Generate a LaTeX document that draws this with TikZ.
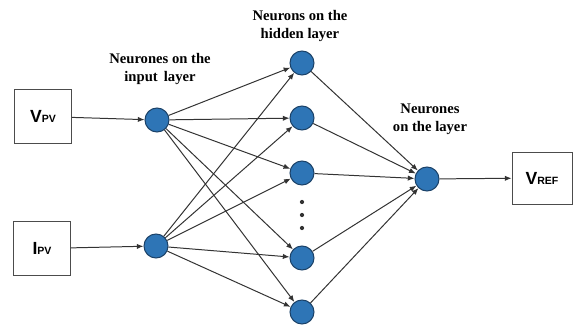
\documentclass[tikz,border=0pt]{standalone}
\usepackage{fontspec}
\setmainfont{Liberation Serif}
\newfontfamily\fontecaixa{Liberation Sans}
\usetikzlibrary{arrows.meta}
\definecolor{azulneuronio}{RGB}{46,117,182}
\definecolor{bordaneuronio}{RGB}{28,66,104}
\def\ocultas{1/63, 2/118, 3/173, 4/258, 5/312}
\tikzset{
  neuronio/.style={circle, draw=bordaneuronio, fill=azulneuronio, line width=0.9pt, inner sep=0pt, minimum size=0.72cm},
  caixa/.style={rectangle, draw=black!70, line width=0.8pt, inner sep=0pt, minimum width=1.7cm, minimum height=1.6cm},
  ligacao/.style={draw=black!80, line width=0.85pt, -{Latex[length=2mm, width=1.6mm]}},
  titulo/.style={align=center, inner sep=0pt, font=\bfseries\fontsize{12.5}{15.5}\selectfont},
  ponto/.style={circle, fill=black!80, inner sep=0pt, minimum size=3.6pt},
}
\newcommand{\sinal}[2]{{\fontecaixa\bfseries\fontsize{15}{15}\selectfont #1}{\fontecaixa\bfseries\fontsize{9}{9}\selectfont #2}}

\begin{document}
\begin{tikzpicture}[x=0.03cm, y=-0.03cm]
  \useasboundingbox (0,0) rectangle (574,327);

  % ---------------- entradas ----------------
  \node[caixa] (vpv) at (43,116.5) {\sinal{V}{PV}};
  \node[caixa] (ipv) at (42,248.5) {\sinal{I}{PV}};
  \node[neuronio] (in1) at (157,120) {};
  \node[neuronio] (in2) at (156,246) {};

  % ---------------- camada oculta ----------------
  \foreach \j/\y in \ocultas { \node[neuronio] (h\j) at (302,\y) {}; }
  \foreach \y [count=\k] in {202,215,228} { \node[ponto] (p\k) at (302,\y) {}; }

  % ---------------- saida ----------------
  \node[neuronio] (saida) at (427,179) {};
  \node[caixa, minimum width=1.8cm, minimum height=1.56cm] (vref) at (542,178) {\sinal{V}{REF}};

  % ---------------- ligacoes ----------------
  \draw[ligacao] (vpv) -- (in1);
  \draw[ligacao] (ipv) -- (in2);
  \foreach \i in {1,2} {
    \foreach \j/\y in \ocultas { \draw[ligacao] (in\i) -- (h\j); }
  }
  \foreach \j/\y in \ocultas { \draw[ligacao] (h\j) -- (saida); }
  \draw[ligacao] (saida) -- (vref);

  % ---------------- rotulos ----------------
  \node[titulo] (tin) at (160,69) {Neurones on the\\input\, layer};
  \node[titulo] (thid) at (300,26) {Neurons on the\\hidden layer};
  \node[titulo] (tout) at (430,119) {Neurones\\on the layer};
\end{tikzpicture}
\end{document}
